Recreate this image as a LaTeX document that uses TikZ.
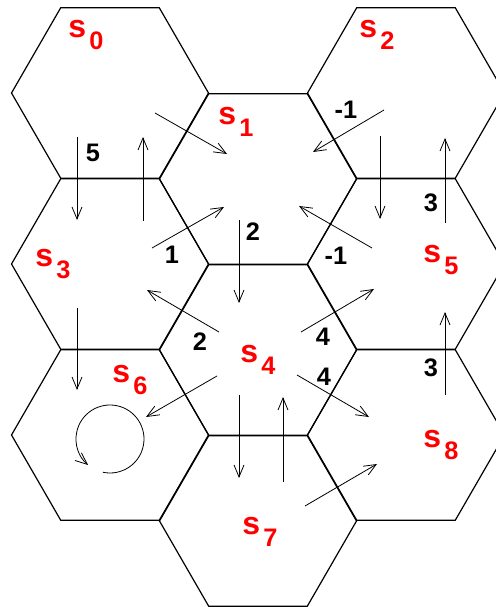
\documentclass[tikz,border=0pt]{standalone}
\usepackage{fontspec}
\setmainfont{Liberation Sans}
\usetikzlibrary{shapes.geometric, arrows.meta, calc}
\definecolor{statered}{RGB}{255, 0, 0}
\newcommand{\statesub}[1]{\hspace{2.5pt}\raisebox{-9pt}{\fontsize{19}{19}\selectfont #1}}
\tikzset{
  hexcell/.style={
    regular polygon,
    regular polygon sides=6,
    minimum size=147.75pt,
    inner sep=0pt,
    draw=black,
    line width=0.9pt
  },
  statename/.style={
    anchor=base west,
    inner sep=0pt,
    text=statered,
    font=\fontsize{24}{24}\selectfont\bfseries
  },
  reward/.style={
    inner sep=0pt,
    font=\fontsize{19}{19}\selectfont\bfseries
  },
  trans/.style={
    -{Straight Barb[length=9pt,width=7.5pt]},
    line width=0.6pt,
    draw=black
  }
}

\begin{document}
\begin{tikzpicture}[x=0.75pt, y=0.75pt]
  \useasboundingbox (0,0) rectangle (496,607);
  \clip (0,0) rectangle (496,607);

  % cells
  \node[hexcell] (h0) at (110,514) {};
  \node[hexcell] (h1) at (258,428) {};
  \node[hexcell] (h2) at (406,514) {};
  \node[hexcell] (h3) at (110,343) {};
  \node[hexcell] (h4) at (258,257) {};
  \node[hexcell] (h5) at (406,343) {};
  \node[hexcell] (h6) at (110,172) {};
  \node[hexcell] (h7) at (258,86) {};
  \node[hexcell] (h8) at (406,172) {};

  % state names
  \node[statename] (s0) at (68,569) {s\statesub{0}};
  \node[statename] (s1) at (218,482) {s\statesub{1}};
  \node[statename] (s2) at (359,569) {s\statesub{2}};
  \node[statename] (s3) at (35,340) {s\statesub{3}};
  \node[statename] (s4) at (240,244) {s\statesub{4}};
  \node[statename] (s5) at (423,344) {s\statesub{5}};
  \node[statename] (s6) at (112,224) {s\statesub{6}};
  \node[statename] (s7) at (242,72) {s\statesub{7}};
  \node[statename] (s8) at (423,159) {s\statesub{8}};

  % moves between cells
  \path ($(h0)+(45,-20)$) edge[trans] ($(h1)+(-31,25)$)
        ($(h0)+(-33,-44)$) edge[trans] ($(h3)+(-33,44)$)
        ($(h3)+(33,43)$) edge[trans] ($(h0)+(33,-44)$)
        ($(h2)+(-22,-17)$) edge[trans] ($(h1)+(55,27)$)
        ($(h2)+(-26,-43)$) edge[trans] ($(h5)+(-26,45)$)
        ($(h5)+(39,41)$) edge[trans] ($(h2)+(39,-45)$)
        ($(h3)+(42,16)$) edge[trans] ($(h1)+(-34,-28)$)
        ($(h4)+(-39,18)$) edge[trans] ($(h3)+(37,-26)$)
        ($(h3)+(-33,-44)$) edge[trans] ($(h6)+(-33,45)$)
        ($(h1)+(-19,-41)$) edge[trans] ($(h4)+(-19,47)$)
        ($(h5)+(-34,16)$) edge[trans] ($(h1)+(41,-27)$)
        ($(h4)+(43,18)$) edge[trans] ($(h5)+(-32,-25)$)
        ($(h8)+(39,40)$) edge[trans] ($(h5)+(39,-48)$)
        ($(h4)+(-41,-26)$) edge[trans] ($(h6)+(36,18)$)
        ($(h4)+(39,-25)$) edge[trans] ($(h8)+(-37,18)$)
        ($(h4)+(-19,-45)$) edge[trans] ($(h7)+(-19,43)$)
        ($(h7)+(25,39)$) edge[trans] ($(h4)+(25,-47)$)
        ($(h7)+(47,15)$) edge[trans] ($(h8)+(-29,-29)$);

  % stay in s6
  \draw[trans] ($(h6)+(0,-4)$) ++(-102:34) arc[start angle=-102, end angle=230, radius=34];

  % rewards
  \node[reward] (r03) at (93,454) {5};
  \node[reward] (r21) at (346,497) {-1};
  \node[reward] (r31) at (172,352) {1};
  \node[reward] (r14) at (253,375) {2};
  \node[reward] (r43) at (200,265) {2};
  \node[reward] (r51) at (336,351) {-1};
  \node[reward] (r45) at (323,270) {4};
  \node[reward] (r48) at (324,230) {4};
  \node[reward] (r52) at (431,404) {3};
  \node[reward] (r85) at (431,239) {3};
\end{tikzpicture}
\end{document}
